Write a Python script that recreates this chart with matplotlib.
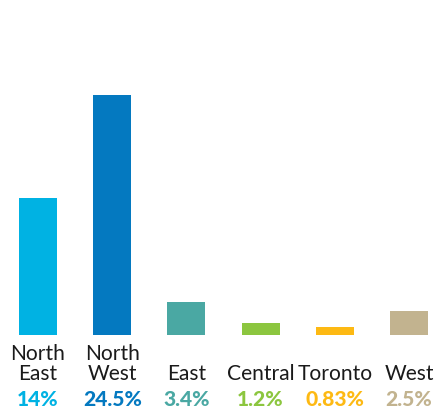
import matplotlib.pyplot as plt
from matplotlib import transforms

regions = ["North\nEast", "North\nWest", "East", "Central", "Toronto", "West"]
shares = [14, 24.5, 3.4, 1.2, 0.83, 2.5]
share_labels = ["14%", "24.5%", "3.4%", "1.2%", "0.83%", "2.5%"]
colors = ["#00B2E3", "#0479C0", "#4AA8A3", "#8CC63F", "#FDB913", "#C2B38F"]

plt.rcParams["font.family"] = ["Lato", "DejaVu Sans"]

# dpi 72 so that points and pixels are the same
fig = plt.figure(figsize=(436 / 72, 412 / 72), dpi=72)
ax = fig.add_axes([0, 77 / 412, 1, 335 / 412])

x = list(range(len(regions)))
ax.bar(x, shares, width=0.512, color=colors)
ax.set_xlim(-0.512, 5.364)
ax.set_ylim(0, 34.2)
ax.axis("off")

# x in data units, y in pixels below the baseline
trans = transforms.blended_transform_factory(ax.transData, ax.transAxes)
for i, (name, val, c) in enumerate(zip(regions, share_labels, colors)):
    lines = name.split("\n")
    for j, line in enumerate(reversed(lines)):
        ax.annotate(line, xy=(i, 0), xycoords=trans, xytext=(0, -45 + 20 * j),
                    textcoords="offset points", ha="center", va="baseline",
                    fontsize=21, fontweight="normal", color="#1a1a1a")
    ax.annotate(val, xy=(i, 0), xycoords=trans, xytext=(0, -71),
                textcoords="offset points", ha="center", va="baseline",
                fontsize=21, fontweight="black", color=c)

fig.savefig("out.png", dpi=72)
